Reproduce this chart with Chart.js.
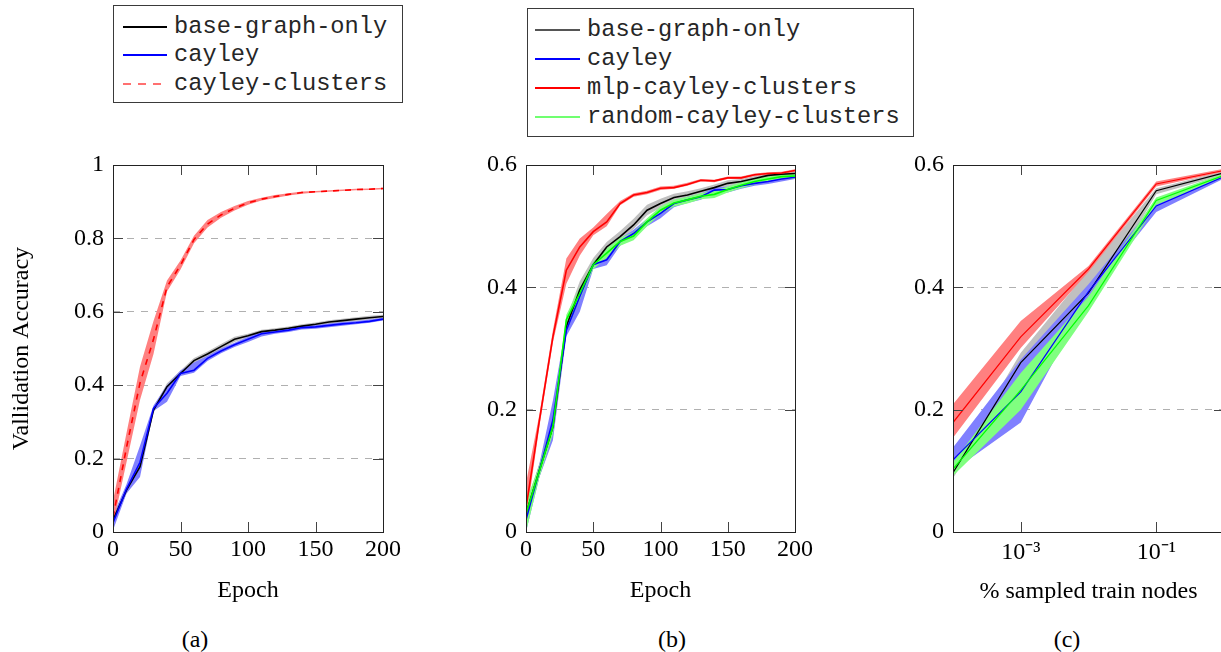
<!DOCTYPE html>
<html><head><meta charset="utf-8">
<script src="https://cdn.jsdelivr.net/npm/chart.js@4.4.1/dist/chart.umd.min.js"></script>
<style>
html,body{margin:0;padding:0;background:#fff;overflow:hidden;width:1221px;height:652px;}
canvas{position:absolute;}
.legend{position:absolute;border:1px solid #3a3a3a;box-sizing:border-box;background:#fff;font-family:'Liberation Mono','DejaVu Sans Mono',monospace;font-size:23.7px;color:#262626;}
.row{position:absolute;left:0;right:0;height:28px;line-height:28px;white-space:nowrap;}
.sample{position:absolute;top:13px;height:1.5px;}
.lbl{position:absolute;top:0;}
.cap{position:absolute;width:100px;text-align:center;font-family:'Liberation Serif',serif;font-size:24px;line-height:30px;color:#000;}
</style></head>
<body>
<canvas id="ca" width="420" height="480" style="left:0;top:140px"></canvas>
<canvas id="cb" width="420" height="480" style="left:420px;top:140px"></canvas>
<canvas id="cc" width="400" height="480" style="left:850px;top:140px"></canvas>
<div id="legA" class="legend" style="left:113px;top:5px;width:290px;height:98px"></div>
<div id="legB" class="legend" style="left:527px;top:8px;width:387px;height:129px"></div>
<div class="cap" style="left:145px;top:624px">(a)</div>
<div class="cap" style="left:622px;top:624px">(b)</div>
<div class="cap" style="left:1017px;top:624px">(c)</div>
<script>
// ---------- data ----------
const epochs = [0,10,20,30,40,50,60,70,80,90,100,110,120,130,140,150,160,170,180,190,200];

// panel (a)
const a_base    = [0.033,0.114,0.178,0.332,0.396,0.432,0.467,0.485,0.505,0.525,0.535,0.546,0.550,0.555,0.561,0.566,0.572,0.576,0.580,0.584,0.587];
const a_base_lo = [0.020,0.105,0.160,0.325,0.385,0.425,0.460,0.478,0.498,0.518,0.530,0.541,0.545,0.550,0.556,0.561,0.567,0.571,0.575,0.579,0.582];
const a_base_hi = [0.045,0.122,0.195,0.340,0.405,0.440,0.474,0.492,0.512,0.532,0.540,0.551,0.555,0.560,0.566,0.571,0.577,0.581,0.585,0.589,0.592];
const a_cay     = [0.025,0.117,0.190,0.337,0.378,0.432,0.441,0.473,0.493,0.510,0.525,0.540,0.545,0.550,0.557,0.559,0.563,0.567,0.570,0.574,0.580];
const a_cay_lo  = [0.005,0.105,0.150,0.330,0.355,0.425,0.434,0.466,0.487,0.504,0.518,0.533,0.540,0.545,0.552,0.554,0.558,0.562,0.566,0.570,0.576];
const a_cay_hi  = [0.045,0.130,0.235,0.345,0.400,0.440,0.462,0.480,0.500,0.516,0.532,0.547,0.550,0.555,0.562,0.564,0.568,0.572,0.575,0.579,0.584];
const a_clu     = [0.040,0.230,0.406,0.525,0.668,0.727,0.797,0.839,0.864,0.882,0.897,0.907,0.914,0.920,0.925,0.927,0.929,0.931,0.933,0.934,0.936];
const a_clu_lo  = [0.020,0.190,0.360,0.485,0.655,0.715,0.787,0.830,0.856,0.876,0.892,0.903,0.910,0.917,0.922,0.925,0.927,0.929,0.931,0.932,0.934];
const a_clu_hi  = [0.085,0.270,0.450,0.575,0.685,0.740,0.807,0.850,0.872,0.888,0.902,0.911,0.918,0.923,0.928,0.929,0.931,0.933,0.935,0.936,0.938];

// panel (b)
const b_base    = [0.030,0.101,0.172,0.336,0.396,0.437,0.466,0.483,0.502,0.526,0.537,0.547,0.551,0.557,0.563,0.570,0.573,0.578,0.583,0.585,0.586];
const b_base_lo = [0.015,0.090,0.155,0.325,0.385,0.430,0.460,0.477,0.495,0.518,0.530,0.541,0.546,0.552,0.558,0.565,0.569,0.574,0.579,0.582,0.583];
const b_base_hi = [0.045,0.112,0.190,0.350,0.410,0.448,0.474,0.492,0.512,0.535,0.545,0.553,0.557,0.562,0.568,0.575,0.577,0.582,0.587,0.588,0.589];
const b_cay     = [0.020,0.101,0.183,0.330,0.385,0.437,0.445,0.475,0.488,0.507,0.521,0.537,0.543,0.548,0.559,0.560,0.566,0.570,0.573,0.577,0.580];
const b_cay_lo  = [0.000,0.090,0.150,0.320,0.360,0.430,0.436,0.468,0.482,0.500,0.513,0.531,0.538,0.543,0.554,0.555,0.561,0.566,0.569,0.573,0.577];
const b_cay_hi  = [0.040,0.112,0.215,0.340,0.395,0.442,0.455,0.480,0.494,0.512,0.527,0.542,0.548,0.553,0.563,0.565,0.570,0.574,0.577,0.581,0.583];
const b_mlp     = [0.039,0.183,0.319,0.428,0.466,0.491,0.507,0.537,0.551,0.555,0.562,0.563,0.568,0.575,0.574,0.579,0.579,0.584,0.586,0.587,0.591];
const b_mlp_lo  = [0.020,0.173,0.310,0.406,0.452,0.485,0.500,0.534,0.548,0.552,0.559,0.561,0.566,0.573,0.572,0.577,0.577,0.582,0.584,0.585,0.589];
const b_mlp_hi  = [0.080,0.193,0.330,0.447,0.480,0.498,0.520,0.541,0.554,0.558,0.565,0.566,0.571,0.577,0.576,0.581,0.581,0.586,0.588,0.589,0.593];
const b_rnd     = [0.030,0.100,0.172,0.347,0.390,0.437,0.456,0.475,0.484,0.507,0.526,0.538,0.543,0.549,0.552,0.560,0.567,0.573,0.577,0.581,0.582];
const b_rnd_lo  = [0.000,0.090,0.160,0.330,0.380,0.430,0.448,0.468,0.477,0.500,0.520,0.532,0.537,0.544,0.546,0.555,0.562,0.568,0.573,0.577,0.578];
const b_rnd_hi  = [0.050,0.110,0.185,0.355,0.400,0.442,0.464,0.481,0.490,0.513,0.532,0.543,0.548,0.554,0.558,0.565,0.572,0.578,0.581,0.585,0.586];

// panel (c)
const fractions = [1e-4,1e-3,1e-2,1e-1,1];
const c_base    = [0.097,0.277,0.391,0.558,0.587];
const c_base_lo = [0.088,0.265,0.362,0.552,0.584];
const c_base_hi = [0.105,0.293,0.428,0.562,0.590];
const c_cay     = [0.118,0.229,0.393,0.533,0.581];
const c_cay_lo  = [0.100,0.179,0.385,0.523,0.578];
const c_cay_hi  = [0.138,0.282,0.405,0.540,0.584];
const c_mlp     = [0.179,0.319,0.430,0.569,0.591];
const c_mlp_lo  = [0.154,0.301,0.425,0.565,0.589];
const c_mlp_hi  = [0.209,0.345,0.435,0.573,0.594];
const c_rnd     = [0.103,0.232,0.370,0.542,0.583];
const c_rnd_lo  = [0.092,0.200,0.360,0.535,0.580];
const c_rnd_hi  = [0.114,0.260,0.385,0.547,0.586];

const c_tick_values = [1e-3, 1e-1];
const c_tick_labels = ['10\u207B\u00B3', '10\u207B\u00B9'];

// legend names
const legendA = ['base-graph-only','cayley','cayley-clusters'];
const legendB = ['base-graph-only','cayley','mlp-cayley-clusters','random-cayley-clusters'];

// ---------- styling ----------
const LINE = {base:'#000000', cay:'#0000ff', red:'#ff0000', green:'#00ff00'};
const BAND = {base:'#c0c0c0', cay:'#8080ff', red:'#ff8080', green:'#80ff80'};
const SERIF = "'Liberation Serif', 'Times New Roman', serif";
const FONT = {family:SERIF, size:24, style:'normal', weight:'normal', lineHeight:1.2};
Chart.defaults.font.family = SERIF;
Chart.defaults.font.size = 24;
Chart.defaults.color = '#000';

function pts(xs, ys){ return xs.map((x,i)=>({x:x, y:ys[i]})); }

function buildDatasets(xs, series){
  const bands = [], lines = [];
  series.forEach((s,k)=>{
    bands.push({label:s.name+' lower', data:pts(xs,s.lo), borderColor:'rgba(0,0,0,0)', borderWidth:0,
      pointRadius:0, fill:false, order:40-2*k});
    bands.push({label:s.name+' upper', data:pts(xs,s.hi), borderColor:'rgba(0,0,0,0)', borderWidth:0,
      pointRadius:0, fill:'-1', backgroundColor:s.band, order:40-2*k});
  });
  series.forEach((s,k)=>{
    lines.push({label:s.name, data:pts(xs,s.v), borderColor:s.color, borderWidth:s.width||1.6,
      borderDash:s.dash||[], pointRadius:0, fill:false, order:10-k});
  });
  return bands.concat(lines);
}

const framePlugin = {
  id:'frame',
  afterDatasetsDraw(chart){
    const {ctx, chartArea:a, scales:{x,y}} = chart;
    ctx.save();
    ctx.strokeStyle = '#444'; ctx.lineWidth = 1;
    ctx.beginPath();
    x.ticks.forEach(t=>{
      const px = Math.round(x.getPixelForValue(t.value))+0.5;
      if (px > a.left+2 && px < a.right-2){
        ctx.moveTo(px,a.bottom); ctx.lineTo(px,a.bottom-10);
        ctx.moveTo(px,a.top); ctx.lineTo(px,a.top+10);
      }
    });
    y.ticks.forEach(t=>{
      const py = Math.round(y.getPixelForValue(t.value))+0.5;
      if (py > a.top+2 && py < a.bottom-2){
        ctx.moveTo(a.left,py); ctx.lineTo(a.left+10,py);
        ctx.moveTo(a.right,py); ctx.lineTo(a.right-10,py);
      }
    });
    ctx.stroke();
    ctx.strokeStyle = '#222';
    ctx.strokeRect(Math.round(a.left)+0.5, Math.round(a.top)+0.5, Math.round(a.width), Math.round(a.height));
    ctx.restore();
  }
};

function gridColor(max){
  return (c)=>{ const v=c.tick?c.tick.value:0; return (v<=1e-9 || v>=max-1e-9)?'rgba(0,0,0,0)':'#b0b0b0'; };
}

function makeChart(id, datasets, o){
  const xScale = o.log ? {
      type:'logarithmic', min:1e-4, max:1,
      afterBuildTicks:(s)=>{ s.ticks = c_tick_values.map(v=>({value:v})); },
      ticks:{callback:(v)=>{ const i=c_tick_values.indexOf(v); return i>=0?c_tick_labels[i]:''; }, padding:o.xTickPad, maxRotation:0, autoSkip:false, font:FONT, color:'#000'}
    } : {
      type:'linear', min:0, max:200,
      ticks:{stepSize:50, padding:o.xTickPad, maxRotation:0, autoSkip:false, font:FONT, color:'#000',
        callback:(v)=>String(Math.round(v))}
    };
  Object.assign(xScale, {
    grid:{display:false, drawTicks:false}, border:{display:false},
    title:{display:true, text:o.xTitle, font:FONT, color:'#000', padding:{top:0,bottom:o.xTitlePadB}},
    afterFit:(s)=>{ s.height = o.xHeight; s.paddingLeft=0; s.paddingRight=0; }
  });
  const yScale = {
    type:'linear', min:0, max:o.yMax,
    ticks:{stepSize:0.2, padding:9, font:FONT, color:'#000', callback:(v)=>String(Math.round(v*10)/10)},
    grid:{color:gridColor(o.yMax), drawTicks:false, lineWidth:1},
    border:{display:false, dash:[7,7]},
    title:{display:!!o.yTitle, text:o.yTitle||'', font:FONT, color:'#000', padding:{top:7,bottom:0}},
    afterFit:(s)=>{ s.width = o.yWidth; s.paddingTop=0; s.paddingBottom=0; }
  };
  return new Chart(document.getElementById(id), {
    type:'line',
    data:{datasets:datasets},
    options:{
      responsive:false, animation:false, events:[],
      layout:{padding:{left:0, right:o.padRight, top:25, bottom:0}},
      elements:{line:{tension:0}},
      plugins:{legend:{display:false}, tooltip:{enabled:false}, filler:{drawTime:'beforeDatasetsDraw'}},
      scales:{x:xScale, y:yScale}
    },
    plugins:[framePlugin]
  });
}

makeChart('ca', buildDatasets(epochs, [
  {name:legendA[0], v:a_base, lo:a_base_lo, hi:a_base_hi, color:LINE.base, band:BAND.base},
  {name:legendA[1], v:a_cay, lo:a_cay_lo, hi:a_cay_hi, color:LINE.cay, band:BAND.cay},
  {name:legendA[2], v:a_clu, lo:a_clu_lo, hi:a_clu_hi, color:LINE.red, band:BAND.red, dash:[6,6]}
]), {xTitle:'Epoch', yTitle:'Vallidation Accuracy', yMax:1, yWidth:113, padRight:37, xHeight:88, xTickPad:3, xTitlePadB:15});

makeChart('cb', buildDatasets(epochs, [
  {name:legendB[0], v:b_base, lo:b_base_lo, hi:b_base_hi, color:LINE.base, band:BAND.base},
  {name:legendB[1], v:b_cay, lo:b_cay_lo, hi:b_cay_hi, color:LINE.cay, band:BAND.cay},
  {name:legendB[2], v:b_mlp, lo:b_mlp_lo, hi:b_mlp_hi, color:LINE.red, band:BAND.red},
  {name:legendB[3], v:b_rnd, lo:b_rnd_lo, hi:b_rnd_hi, color:LINE.green, band:BAND.green}
]), {xTitle:'Epoch', yMax:0.6, yWidth:106, padRight:45, xHeight:88, xTickPad:3, xTitlePadB:15});

makeChart('cc', buildDatasets(fractions, [
  {name:legendB[0], v:c_base, lo:c_base_lo, hi:c_base_hi, color:LINE.base, band:BAND.base, width:1.2},
  {name:legendB[1], v:c_cay, lo:c_cay_lo, hi:c_cay_hi, color:LINE.cay, band:BAND.cay, width:1.2},
  {name:legendB[2], v:c_mlp, lo:c_mlp_lo, hi:c_mlp_hi, color:LINE.red, band:BAND.red, width:1.2},
  {name:legendB[3], v:c_rnd, lo:c_rnd_lo, hi:c_rnd_hi, color:LINE.green, band:BAND.green, width:1.2}
]), {xTitle:'% sampled train nodes', yMax:0.6, yWidth:103, padRight:26, xHeight:88, xTickPad:6, xTitlePadB:14, log:true});

// ---------- HTML legends ----------
function buildLegend(el, names, samples, rowTops, sampleLeft, sampleW, textLeft){
  names.forEach((n,i)=>{
    const row = document.createElement('div'); row.className='row'; row.style.top = rowTops[i]+'px';
    const s = document.createElement('div'); s.className='sample';
    s.style.left = sampleLeft+'px'; s.style.width = sampleW+'px'; s.style.background = samples[i];
    const t = document.createElement('div'); t.className='lbl'; t.style.left = textLeft+'px'; t.textContent = n;
    row.appendChild(s); row.appendChild(t); el.appendChild(row);
  });
}
buildLegend(document.getElementById('legA'), legendA,
  ['#000','#0000ff','repeating-linear-gradient(to right,#ff7070 0 8px,transparent 8px 15px)'],
  [7,35,64], 9, 44, 60);
buildLegend(document.getElementById('legB'), legendB,
  ['#555','#0000ff','#ff0000','#70ff70'],
  [7,36,65,94], 7, 45, 59);
</script>
</body></html>
